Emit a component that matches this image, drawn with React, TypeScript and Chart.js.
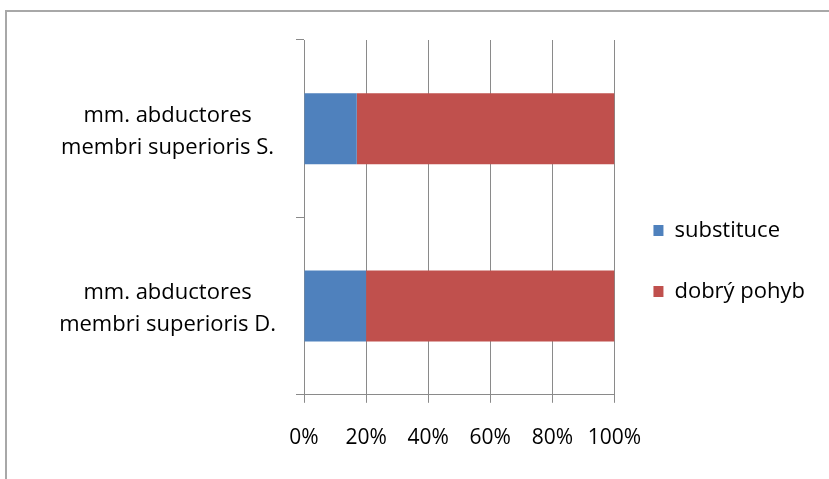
import React, { useEffect, useRef } from "react";
import { Chart, registerables } from "chart.js";
Chart.register(...registerables);

const categories: string[][] = [
  ["mm. abductores", "membri superioris S."],
  ["mm. abductores", "membri superioris D."],
];
const seriesNames = ["substituce", "dobrý pohyb"];
const substituce = [17, 20];
const dobryPohyb = [83, 80];
const xTickValues = [0, 20, 40, 60, 80, 100];
const colors = ["#4F81BD", "#C0504D"];

const FONT = "'Open Sans', Lato, sans-serif";
const GRID = "#8a8a8a";

export default function App() {
  const ref = useRef<HTMLCanvasElement | null>(null);
  useEffect(() => {
    if (!ref.current) return;
    const chart = new Chart(ref.current, {
      type: "bar",
      data: {
        labels: categories,
        datasets: [
          { label: seriesNames[0], data: substituce, backgroundColor: colors[0], borderWidth: 0, barPercentage: 0.4, categoryPercentage: 1 },
          { label: seriesNames[1], data: dobryPohyb, backgroundColor: colors[1], borderWidth: 0, barPercentage: 0.4, categoryPercentage: 1 },
        ],
      },
      options: {
        indexAxis: "y",
        responsive: false,
        animation: false,
        layout: { padding: { top: 40, bottom: 5, left: 0, right: 14 } },
        scales: {
          x: {
            stacked: true,
            min: 0,
            max: 100,
            afterBuildTicks: (s: any) => {
              s.ticks = xTickValues.map((v) => ({ value: v }));
            },
            ticks: {
              callback: (v: any) => v + "%",
              color: "#000",
              padding: 23,
              maxRotation: 0,
              font: { family: FONT, size: 21 },
            },
            grid: { color: GRID, tickLength: 8, drawOnChartArea: true, lineWidth: 1 },
            border: { display: true, color: GRID },
          },
          y: {
            stacked: true,
            afterFit: (s: any) => {
              s.width = 304;
              s.paddingTop = 0;
              s.paddingBottom = 0;
            },
            ticks: {
              color: "#000",
              crossAlign: "center",
              padding: 20,
              labelOffset: 3,
              font: { family: FONT, size: 22, lineHeight: 1.45 },
            },
            grid: { offset: true, drawOnChartArea: false, tickLength: 8, color: GRID },
            border: { display: true, color: GRID },
          },
        },
        plugins: {
          tooltip: { enabled: false },
          legend: {
            position: "right",
            align: "start",
            title: { display: true, text: "", padding: { top: 126, bottom: 0 }, font: { size: 12 } },
            labels: {
              boxWidth: 10,
              boxHeight: 11,
              padding: 39,
              color: "#000",
              font: { family: FONT, size: 22 },
            },
          },
        },
      },
    });
    return () => chart.destroy();
  }, []);
  return (
    <div style={{ position: "absolute", left: 0, top: 0, width: 829, height: 479, overflow: "hidden", background: "#fff" }}>
      <div style={{ position: "absolute", left: 5, top: 10, width: 900, height: 600, border: "2px solid #a8a8a8" }} />
      <canvas ref={ref} width={829} height={479} style={{ position: "absolute", left: 0, top: 0 }} />
    </div>
  );
}
